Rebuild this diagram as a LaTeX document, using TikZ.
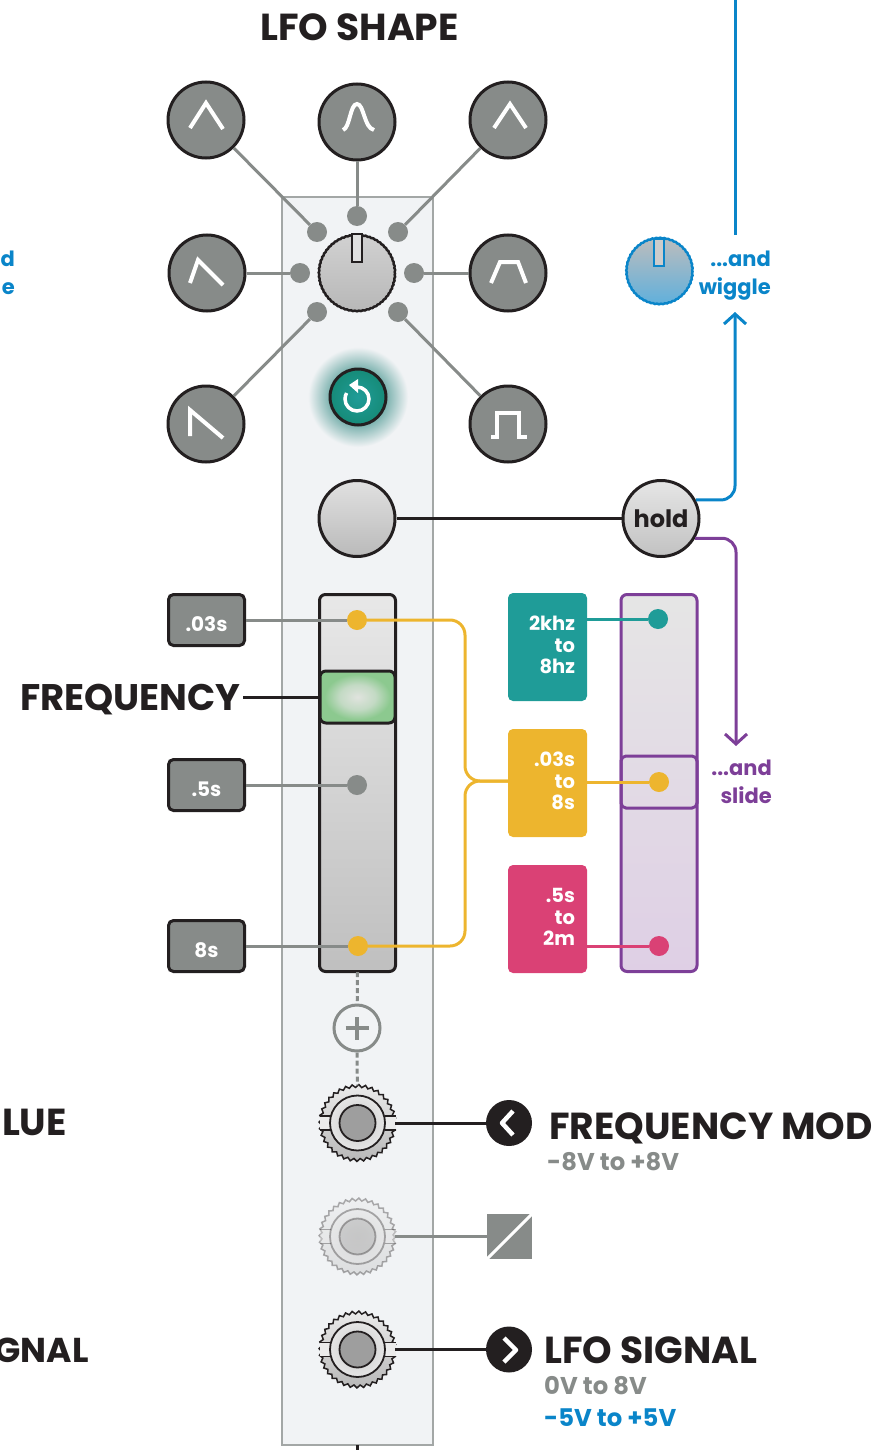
\documentclass[tikz,border=0pt]{standalone}
\usepackage{fontspec}
\setmainfont{Poppins}
\usetikzlibrary{arrows.meta,decorations.pathmorphing}
\definecolor{panelfill}{HTML}{F1F3F5}
\definecolor{panelline}{HTML}{A3A7A6}
\definecolor{swgrey}{HTML}{878B89}
\definecolor{ink}{HTML}{231F20}
\definecolor{amber}{HTML}{EDB52E}
\definecolor{tealish}{HTML}{1F9C98}
\definecolor{rose}{HTML}{DA4175}
\definecolor{plum}{HTML}{7D3F98}
\definecolor{wire}{HTML}{0A85C9}
\definecolor{ledgreen}{HTML}{168B78}
\definecolor{ledglowc}{HTML}{6FABA7}
\definecolor{capmid}{HTML}{E0E3DE}
\definecolor{capnear}{HTML}{C3DAC4}
\definecolor{capedge}{HTML}{8CC98F}
\pgfdeclareradialshading{ledhalo}{\pgfpoint{0bp}{0bp}}{color(0bp)=(ledglowc);color(13bp)=(ledglowc);color(25bp)=(panelfill);color(50bp)=(panelfill)}
\pgfdeclareradialshading{faderlit}{\pgfpoint{0bp}{0bp}}{color(0bp)=(capmid);color(12bp)=(capnear);color(22bp)=(capedge);color(50bp)=(capedge)}
\tikzset{
  swcircle/.style={circle,draw=ink,line width=3pt,fill=swgrey,minimum size=76pt,inner sep=0pt},
  swdot/.style={circle,fill=swgrey,minimum size=20pt,inner sep=0pt},
  colordot/.style={circle,fill=#1,minimum size=20pt,inner sep=0pt},
  lead/.style={swgrey,line width=3pt},
  wave/.style={white,line width=4pt},
  timebox/.style={draw=ink,line width=3pt,fill=swgrey,rounded corners=5pt,minimum width=76pt,minimum height=51pt,
    inner sep=0pt,text=white,text height=22pt,text depth=0pt,font=\bfseries\fontsize{20}{22}\selectfont},
  rangebox/.style={fill=#1,rounded corners=5pt,text width=55pt,inner sep=12pt,minimum height=108pt,align=right,
    text=white,text depth=47pt,font=\bfseries\fontsize{19.5}{21.5}\selectfont},
  bigtitle/.style={text=ink,font=\bfseries\fontsize{37.6}{40}\selectfont,inner sep=0pt},
  subtitle/.style={font=\bfseries\fontsize{24.3}{26}\selectfont,inner sep=0pt},
  handnote/.style={font=\bfseries\fontsize{21}{28}\selectfont,align=right,inner sep=0pt},
  blackwire/.style={ink,line width=3pt},
  ambercable/.style={amber,line width=3pt,rounded corners=15pt},
  knurl/.style={decorate,decoration={zigzag,segment length=4pt,amplitude=.3pt}},
  jacknut/.style={circle,draw=ink,line width=1.5pt,top color=black!8,bottom color=black!28,minimum size=74pt,inner sep=0pt,
    decorate,decoration={zigzag,segment length=6.5pt,amplitude=1.4pt}},
  chevron/.style={white,line width=4.5pt,line join=round},
  tip/.style={-{Straight Barb[length=10pt,width=22pt]}}
}
\begin{document}
\begin{tikzpicture}[x=1pt,y=-1pt]
  \useasboundingbox (0,0) rectangle (891,1450);
  \node[fill=panelfill,draw=panelline,line width=2pt,minimum width=151pt,minimum height=1248pt,inner sep=0pt] (panel) at (357.5,821) {};
  \coordinate (tailtop) at (357,1445);
  \coordinate (tailend) at (357,1450);
  \draw[blackwire] (tailtop) -- (tailend);

  % shape selector
  \foreach \name/\x/\y in {triA/206/120,bell/357/122,triB/508/120,sawup/207/273,trap/508/273,sawdown/206/424,pulse/508/424}
    \node[swcircle] (\name) at (\x,\y) {};
  \foreach \name/\x/\y in {dotA/317/232,dotB/357/216,dotC/398/232,dotD/300/273,dotE/414/273,dotF/317/312,dotG/398/312}
    \node[swdot] (\name) at (\x,\y) {};
  \foreach \a/\b in {triA/dotA,bell/dotB,triB/dotC,sawup/dotD,trap/dotE,sawdown/dotF,pulse/dotG}
    \draw[lead] (\a) -- (\b);
  \draw[wave] (190,128) -- (206,103) -- (223,129);
  \draw[wave] (343,130) .. controls (350,128) and (350,104) .. (357,104) .. controls (364,104) and (364,128) .. (374,130);
  \draw[wave] (494,128) -- (510,104) -- (526,128);
  \draw[wave] (190,283) -- (198,260) -- (223,285);
  \draw[wave] (491,283) -- (500,262) -- (518,262) -- (526,283);
  \draw[wave] (190,436) -- (190,410) -- (223,438);
  \draw[wave] (491,437) -- (497,437) -- (497,413) -- (519,413) -- (519,437) -- (527,437);

  \node[circle,draw=ink,line width=2.5pt,top color=black!18,bottom color=black!28,minimum size=76pt,inner sep=0pt,knurl] (knob) at (357,273) {};
  \node[draw=ink,line width=2pt,fill=black!12,minimum width=10pt,minimum height=28pt,inner sep=0pt] (knobmark) at (357,248) {};

  % reset button
  \node[circle,shading=ledhalo,minimum size=100pt,inner sep=0pt] (halo) at (358,397) {};
  \node[circle,draw=ink,line width=3pt,inner color=tealish,outer color=ledgreen,minimum size=56pt,inner sep=0pt] (reset) at (358,397) {};
  \draw[white,line width=3.5pt] (357,387) arc[start angle=90,end angle=-210,radius=12pt];
  \fill[white] (349,385) -- (358,379) -- (358,393) -- cycle;

  % hold
  \node[circle,draw=ink,line width=3pt,top color=black!12,bottom color=black!27,minimum size=76pt,inner sep=0pt] (holdjack) at (357,518.5) {};
  \node[circle,draw=ink,line width=3pt,top color=black!10,bottom color=black!24,minimum size=76pt,inner sep=0pt,text=ink,
    font=\bfseries\fontsize{24}{28}\selectfont] (hold) at (661,518.5) {hold};
  \draw[blackwire] (holdjack) -- (hold);
  \node[circle,draw=wire,line width=2.5pt,top color=black!26,bottom color=wire!65,minimum size=66pt,inner sep=0pt,knurl] (blueknob) at (659.5,271) {};
  \node[draw=wire,line width=2pt,fill=black!20,minimum width=10pt,minimum height=27pt,inner sep=0pt] (bluemark) at (659,252) {};
  \node[handnote,text=wire,anchor=east] (wiggle) at (771,276) {...and\\wiggle};
  \node[handnote,text=wire,anchor=east] (wiggleclip) at (15,273) {d\\e};
  \node[handnote,text=plum,anchor=east] (slide) at (772,782) {...and\\slide};
  \coordinate (wirefrom) at (735,0);
  \coordinate (wireto) at (735,235);
  \coordinate (wiretip) at (735,312);
  \coordinate (plumtip) at (736,746);
  \draw[wire,line width=3pt] (wirefrom) -- (wireto);
  \draw[tip,wire,line width=3pt,rounded corners=14pt] (hold.28) -| (wiretip);
  \draw[tip,plum,line width=3pt,rounded corners=14pt] (hold.-30) -| (plumtip);

  % left fader
  \node[draw=ink,line width=3pt,rounded corners=6pt,top color=black!9,bottom color=black!25,minimum width=76pt,minimum height=377pt,inner sep=0pt] (fader) at (357.5,783) {};
  \node[draw=ink,line width=3pt,rounded corners=6pt,shading=faderlit,minimum width=75pt,minimum height=52pt,inner sep=0pt] (cap) at (357.5,697) {};
  \node[bigtitle,anchor=base east,font=\bfseries\fontsize{37}{40}\selectfont] (freqname) at (241,710) {FREQUENCY};
  \coordinate (capwire) at (243,697);
  \draw[ink,line width=3pt] (capwire) -- (cap);
  \foreach \name/\y/\t in {fastbox/620/.03s,midbox/785/.5s,slowbox/946/8s}
    \node[timebox] (\name) at (206.5,\y) {\t};
  \node[colordot=amber] (fastdot) at (357,620) {};
  \node[swdot] (middot) at (357,785) {};
  \node[colordot=amber] (slowdot) at (358,946) {};
  \draw[lead] (fastbox) -- (fastdot);
  \draw[lead] (midbox) -- (middot);
  \draw[lead] (slowbox) -- (slowdot);

  % right fader
  \node[draw=plum,line width=3pt,rounded corners=6pt,top color=black!10,bottom color=plum!25,minimum width=76pt,minimum height=377pt,inner sep=0pt] (rightfader) at (659,783) {};
  \node[draw=plum,line width=3pt,rounded corners=5pt,minimum width=76pt,minimum height=52pt,inner sep=0pt] (rightcap) at (659,782) {};
  \node[rangebox=tealish] (tealbox) at (547.5,647) {2khz\\to\\8hz};
  \node[rangebox=amber] (amberbox) at (547.5,783) {.03s\\to\\8s};
  \node[rangebox=rose] (rosebox) at (547.5,919) {.5s\\to\\2m};
  \node[colordot=tealish] (tealdot) at (658,619) {};
  \node[colordot=amber] (amberdot) at (659,782) {};
  \node[colordot=rose] (rosedot) at (659,946) {};
  \draw[tealish,line width=3pt] (tealbox.east |- tealdot) -- (tealdot);
  \draw[amber,line width=3pt] (amberbox.east |- amberdot) -- (amberdot);
  \draw[rose,line width=3pt] (rosebox.east |- rosedot) -- (rosedot);
  \coordinate (cablejoin) at (465,781);
  \draw[ambercable] (fastdot) -| (cablejoin) -- (amberbox.west |- cablejoin);
  \draw[ambercable] (slowdot) -| (cablejoin) -- (amberbox.west |- cablejoin);

  % jacks
  \foreach \name/\y/\fade in {freqjack/1123/1,deadjack/1236.5/.35,lfojack/1349.5/1} {
    \begin{scope}[shift={(357.5,\y)},opacity=\fade]
      \node[jacknut] (\name) at (0,0) {};
      \fill[white!92!black] (-38,-7) rectangle (38,7);
      \draw[ink,line width=1.2pt] (-38,-7) -- (-27,-7) (-38,7) -- (-27,7) (27,-7) -- (38,-7) (27,7) -- (38,7);
      \node[circle,draw=ink,line width=1.8pt,inner color=black!22,outer color=black!10,minimum size=55pt,inner sep=0pt] (\name ring) at (0,0) {};
      \node[circle,draw=ink,line width=1.8pt,fill=black!38,minimum size=36pt,inner sep=0pt] (\name pin) at (0,0) {};
    \end{scope}
  }
  \node[circle,draw=swgrey,line width=3pt,fill=panelfill,minimum size=46pt,inner sep=0pt] (plus) at (357,1028) {};
  \draw[swgrey,line width=4pt] (345.5,1028) -- (369,1028) (357,1017) -- (357,1040);
  \draw[swgrey,line width=3pt,dash pattern=on 5pt off 3pt] (fader) ++(0,189) -- (plus);
  \draw[swgrey,line width=3pt,dash pattern=on 5pt off 3pt] (plus) -- (freqjack);

  \node[circle,fill=ink,minimum size=46pt,inner sep=0pt] (inchev) at (509,1123) {};
  \draw[chevron] (513,1111) -- (502,1123) -- (513,1135);
  \draw[blackwire] (freqjack) -- (inchev);
  \node[fill=swgrey,minimum size=45pt,inner sep=0pt] (deadsq) at (509.5,1236.5) {};
  \draw[white,line width=3pt] (deadsq.south west) -- (deadsq.north east);
  \draw[lead] (deadjack) -- (deadsq);
  \node[circle,fill=ink,minimum size=46pt,inner sep=0pt] (outchev) at (509,1349.5) {};
  \draw[chevron] (504,1338) -- (516,1350) -- (504,1362);
  \draw[blackwire] (lfojack) -- (outchev);

  % titles
  \node[bigtitle,anchor=base] (shapename) at (359.5,41) {LFO SHAPE};
  \node[bigtitle,anchor=base west] (modname) at (549,1139) {FREQUENCY MOD};
  \node[subtitle,text=swgrey,anchor=base west] (modrange) at (547,1170) {-8V to +8V};
  \node[bigtitle,anchor=base west] (lfoname) at (544,1363) {LFO SIGNAL};
  \node[subtitle,text=swgrey,anchor=base west] (lforange) at (544,1394) {0V to 8V};
  \node[subtitle,text=wire,anchor=base west] (lfobipolar) at (544,1426) {-5V to +5V};
  \node[bigtitle,anchor=base east] (clipvalue) at (67,1135) {LUE};
  \node[bigtitle,anchor=base east,font=\bfseries\fontsize{34.5}{40}\selectfont] (clipsignal) at (89,1362) {GNAL};
\end{tikzpicture}
\end{document}
